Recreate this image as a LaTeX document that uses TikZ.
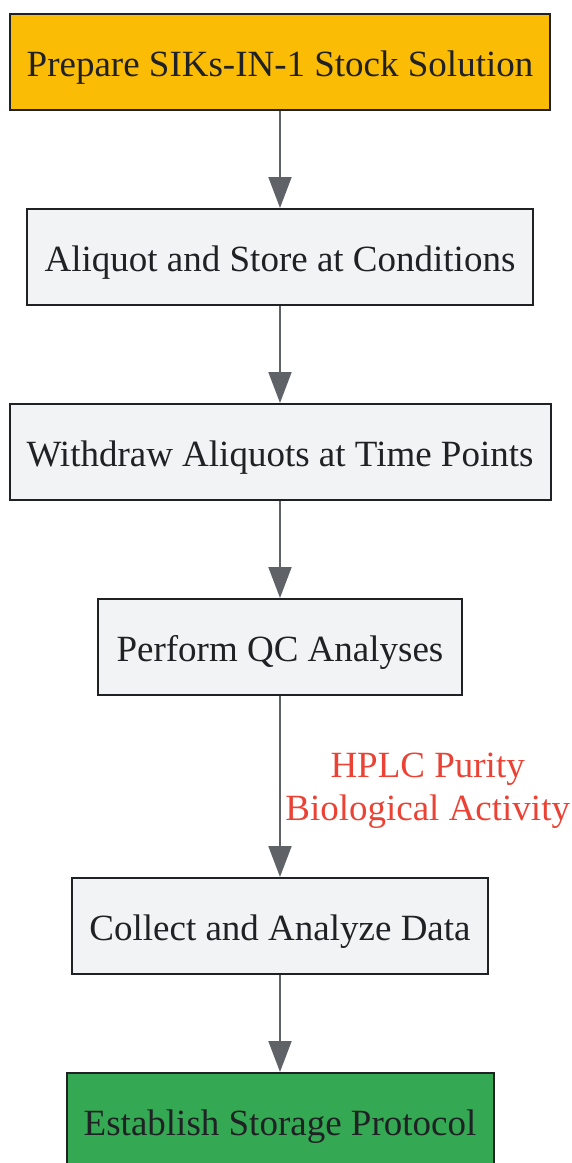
\documentclass[tikz,border=0pt]{standalone}
\usepackage{fontspec}
\setmainfont{Liberation Serif}
\usetikzlibrary{arrows.meta}
\definecolor{boxgray}{HTML}{F1F3F4}
\definecolor{edgegray}{HTML}{5F6368}
\definecolor{textdark}{HTML}{202124}
\definecolor{yel}{HTML}{FBBC05}
\definecolor{grn}{HTML}{34A853}
\definecolor{lbl}{HTML}{EA4335}
\tikzset{
  stepbox/.style={draw=textdark, line width=2pt, fill=boxgray, text=textdark,
    minimum height=96pt, inner sep=0pt, text height=30pt, text depth=2pt,
    font=\fontsize{37}{43}\selectfont, anchor=north},
  flow/.style={draw=edgegray, line width=2pt, -{Triangle[width=23pt,length=31pt]}, color=edgegray},
  edgelbl/.style={text=lbl, font=\fontsize{37}{43}\selectfont, align=center}
}
\begin{document}
\begin{tikzpicture}[x=1pt,y=-1pt]
\useasboundingbox (0,0) rectangle (572,1163);
\node[stepbox, fill=yel, minimum width=540pt] (a) at (280,13) {Prepare SIKs-IN-1 Stock Solution};
\node[stepbox, minimum width=506pt] (b) at (280,208) {Aliquot and Store at Conditions};
\node[stepbox, minimum width=541pt] (c) at (280,403) {Withdraw Aliquots at Time Points};
\node[stepbox, minimum width=364pt] (d) at (280,598) {Perform QC Analyses};
\node[stepbox, minimum width=416pt] (e) at (280,877) {Collect and Analyze Data};
\node[stepbox, fill=grn, minimum width=427pt] (f) at (280,1072) {Establish Storage Protocol};
\draw[flow] (a.south) -- (b.north);
\draw[flow] (b.south) -- (c.north);
\draw[flow] (c.south) -- (d.north);
\draw[flow] (d.south) -- node[edgelbl, right=0pt, xshift=1pt, yshift=-4pt] (l) {HPLC Purity\\Biological Activity} (e.north);
\draw[flow] (e.south) -- (f.north);
\end{tikzpicture}
\end{document}
